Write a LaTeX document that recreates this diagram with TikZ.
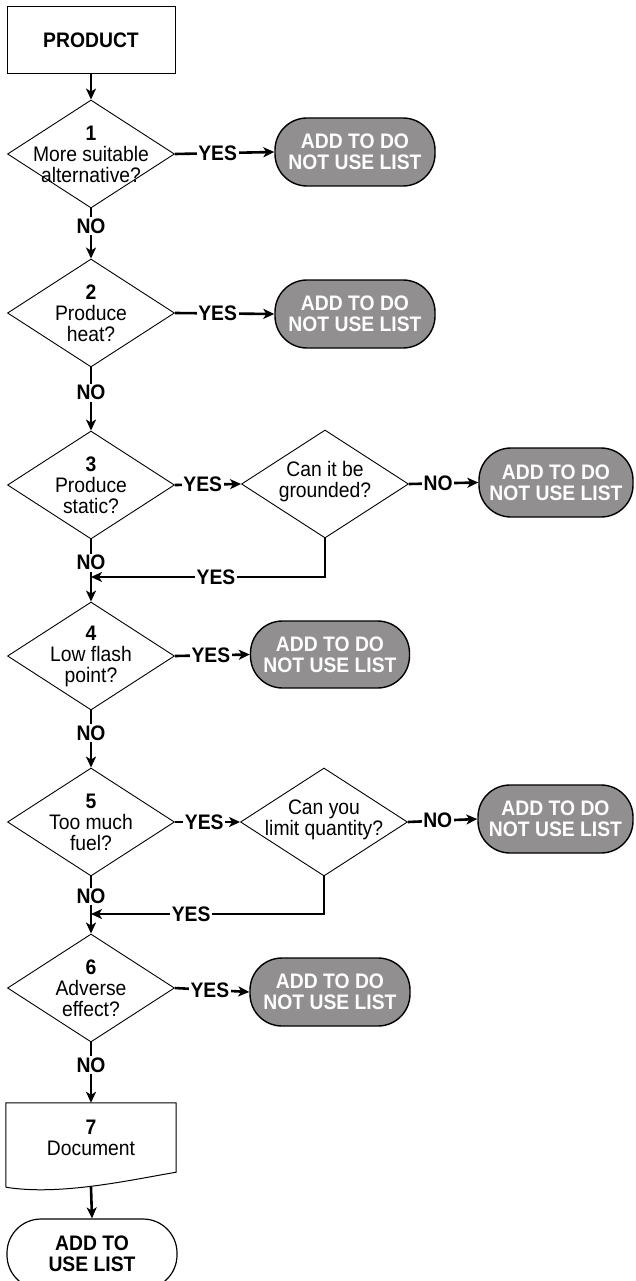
\documentclass[tikz,border=0pt]{standalone}
\usepackage{fontspec}
\setmainfont{Liberation Sans}[FakeStretch=0.92]
\usetikzlibrary{shapes.geometric,arrows.meta,calc}
\definecolor{ovalgray}{RGB}{145,143,143}
\begin{document}
\begin{tikzpicture}[x=1pt,y=-1pt,
 every node/.style={font=\fontsize{21}{21}\selectfont},
 dia/.style={draw, shape=diamond, minimum width=167pt, minimum height=108pt, inner sep=0pt, line width=0.9pt},
 txt/.style={align=center, inner sep=0pt},
 stopoval/.style={draw, line width=1.4pt, fill=ovalgray, rectangle, rounded corners=32pt, minimum width=160pt, minimum height=68pt, inner sep=0pt, align=center, text=white, font=\fontsize{21}{21}\selectfont\bfseries},
 conn/.style={line width=2.6pt, -{Stealth[length=11pt,width=10pt,inset=3pt]}},
 lab/.style={fill=white, inner sep=1.5pt, font=\fontsize{21}{21}\selectfont\bfseries},
]
\useasboundingbox (0,0) rectangle (635,1281);
\clip (0,0) rectangle (635,1281);

% nodes
\node[draw, line width=1pt, minimum width=168pt, minimum height=67pt, font=\fontsize{21}{21}\selectfont\bfseries] (P) at (91,40.5) {PRODUCT};

\node[dia] (D1) at (91,154) {};
\node[txt] (D1t) at (91,154) {\textbf{1}\\More suitable\\alternative?};
\node[stopoval] (O1) at (355,152) {ADD TO DO\\NOT USE LIST};

\node[dia] (D2) at (91,313) {};
\node[txt] (D2t) at (91,313) {\textbf{2}\\Produce\\heat?};
\node[stopoval] (O2) at (355,314) {ADD TO DO\\NOT USE LIST};

\node[dia] (D3) at (91,485) {};
\node[txt] (D3t) at (91,485) {\textbf{3}\\Produce\\static?};
\node[dia] (D3b) at (325,484) {};
\node[txt] (D3bt) at (325,482) {Can it be\\grounded?};
\node[stopoval, minimum width=154pt, minimum height=69pt] (O3) at (556,482.5) {ADD TO DO\\NOT USE LIST};
\coordinate (m3) at (91,577);

\node[dia] (D4) at (91,656) {};
\node[txt] (D4t) at (91,656) {\textbf{4}\\Low flash\\point?};
\node[stopoval, minimum width=159pt, minimum height=67pt] (O4) at (330,654.5) {ADD TO DO\\NOT USE LIST};

\node[dia] (D5) at (91,822) {};
\node[txt] (D5t) at (91,822) {\textbf{5}\\Too much\\fuel?};
\node[dia] (D5b) at (324,822) {};
\node[txt] (D5bt) at (324,820) {Can you\\limit quantity?};
\node[stopoval, minimum width=155pt] (O5) at (555.5,819) {ADD TO DO\\NOT USE LIST};
\coordinate (m5) at (91,914);

\node[dia] (D6) at (91,988) {};
\node[txt] (D6t) at (91,988) {\textbf{6}\\Adverse\\effect?};
\node[stopoval] (O6) at (330,992) {ADD TO DO\\NOT USE LIST};

\node[minimum width=170pt, minimum height=84pt, inner sep=0pt] (doc) at (91,1145) {};
\draw[line width=1pt] (doc.south west) -- (doc.north west) -- (doc.north east) -- ([yshift=15pt]doc.south east)
  .. controls (130,1180) and (60,1196) .. (doc.south west);
\node[txt] (doct) at (91,1138) {\textbf{7}\\Document};

\node[draw, line width=1.2pt, rectangle, rounded corners=34pt, minimum width=170pt, minimum height=70pt, align=center, inner sep=0pt, font=\fontsize{21}{21}\selectfont\bfseries] (F) at (92,1254) {ADD TO\\USE LIST};

% connectors
\draw[conn] (P.south) -- (D1.north);
\draw[conn] (D1.east) -- (O1.west) node[lab,pos=0.43]{YES};
\draw[conn] (D1.south) -- (D2.north) node[lab,pos=0.35]{NO};
\draw[conn] (D2.east) -- (O2.west) node[lab,pos=0.43]{YES};
\draw[conn] (D2.south) -- (D3.north) node[lab,pos=0.4]{NO};
\draw[conn] (D3.east) -- (D3b.west) node[lab,pos=0.42]{YES};
\draw[conn] (D3b.east) -- (O3.west) node[lab,pos=0.42]{NO};
\draw[conn] (D3.south) -- (D4.north) node[lab,pos=0.375]{NO};
\draw[conn] (D3b.south) |- (m3) node[lab,pos=0.733]{YES};
\draw[conn] (D4.east) -- (O4.west) node[lab,pos=0.48]{YES};
\draw[conn] (D4.south) -- (D5.north) node[lab,pos=0.4]{NO};
\draw[conn] (D5.east) -- (D5b.west) node[lab,pos=0.45]{YES};
\draw[conn] (D5b.east) -- (O5.west) node[lab,pos=0.43]{NO};
\draw[conn] (D5.south) -- (D6.north) node[lab,pos=0.35]{NO};
\draw[conn] (D5b.south) |- (m5) node[lab,pos=0.785]{YES};
\draw[conn] (D6.east) -- (O6.west) node[lab,pos=0.47]{YES};
\draw[conn] (D6.south) -- (doc.north) node[lab,pos=0.38]{NO};
\draw[conn] (doc.south) -- (F.north);
\end{tikzpicture}
\end{document}
